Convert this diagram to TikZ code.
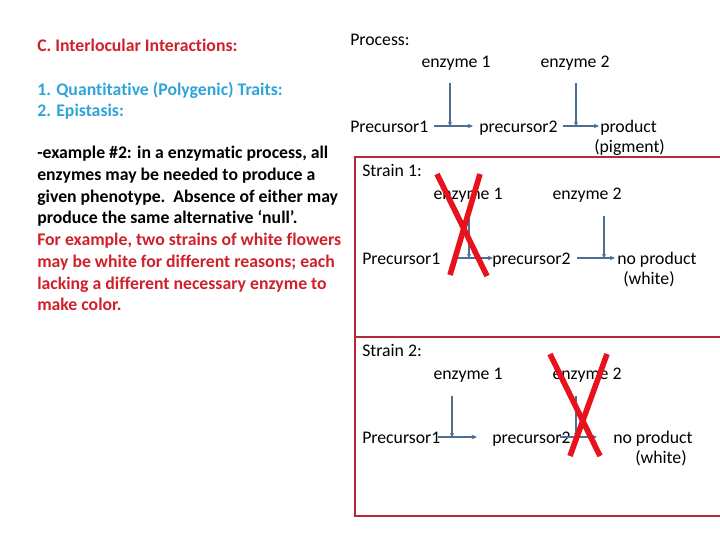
\documentclass[tikz,border=0pt]{standalone}
\usepackage{fontspec}
\setmainfont[Ligatures=NoCommon]{Carlito}
\usetikzlibrary{arrows.meta}
\definecolor{redtxt}{HTML}{D0202A}
\definecolor{bluetxt}{HTML}{2FA4D8}
\definecolor{arrowc}{HTML}{4F6F92}
\definecolor{boxred}{HTML}{B8283A}
\definecolor{xred}{HTML}{E8121C}
\begin{document}
\begin{tikzpicture}[x=0.75pt,y=-0.75pt,
  lbl/.style={inner sep=0pt, anchor=west, yshift=-2.2pt, font=\fontsize{13.3}{16}\selectfont, text height=1.5ex, text depth=.3ex},
  ctr/.style={lbl, anchor=center},
  bld/.style={lbl, font=\fontsize{13.3}{16}\selectfont\bfseries},
  hpath/.style={draw=arrowc, line width=1.5pt, -{Stealth[length=4pt,width=3.5pt]}},
  vpath/.style={draw=arrowc, line width=1.5pt, -{Stealth[length=3pt,width=3pt]}},
  boxline/.style={draw=boxred, line width=1pt},
  cross/.style={draw=xred, line width=4.2pt}]
\useasboundingbox (0,0) rectangle (720,540);

% left text
\node[bld, text=redtxt] (t0) at (37,45) {C. Interlocular Interactions:};
\node[bld, text=bluetxt] (t1) at (37,89) {1. Quantitative (Polygenic) Traits:};
\node[bld, text=bluetxt] (t2) at (37,110) {2. Epistasis:};
\node[bld] (l1) at (37,152) {-example \#2: in a enzymatic process, all};
\node[bld] (l2) at (37,174) {enzymes may be needed to produce a};
\node[bld] (l3) at (37,196) {given phenotype.\ \ Absence of either may};
\node[bld] (l4) at (37,217) {produce the same alternative ‘null’.};
\node[bld, text=redtxt] (l5) at (37,239) {For example, two strains of white flowers};
\node[bld, text=redtxt] (l6) at (37,261) {may be white for different reasons; each};
\node[bld, text=redtxt] (l7) at (37,283) {lacking a different necessary enzyme to};
\node[bld, text=redtxt] (l8) at (37,304) {make color.};

% process
\node[lbl] (proc) at (350,39) {Process:};
\node[ctr] (pe1) at (456,61) {enzyme 1};
\node[ctr] (pe2) at (575,61) {enzyme 2};
\node[lbl] (pp1) at (350,126) {Precursor1};
\node[lbl] (pp2) at (479,126) {precursor2};
\node[lbl] (pprod) at (600,126) {product};
\node[lbl] (ppig) at (594,146) {(pigment)};
\coordinate (pa1s) at (434,126); \coordinate (pa1e) at (473,126);
\coordinate (pv1s) at (450,83);  \coordinate (pv1e) at (450,126);
\coordinate (pa2s) at (563,126); \coordinate (pa2e) at (599,126);
\coordinate (pv2s) at (576,83);  \coordinate (pv2e) at (576,126);
\draw[hpath] (pa1s) -- (pa1e);
\draw[vpath] (pv1s) -- (pv1e);
\draw[hpath] (pa2s) -- (pa2e);
\draw[vpath] (pv2s) -- (pv2e);

% boxes
\draw[boxline] (720,157) -- (355,157) -- (355,337) -- (720,337);
\draw[boxline] (355,337) -- (355,516) -- (720,516);

% strain 1
\node[lbl] (s1) at (362,170) {Strain 1:};
\node[ctr] (ae1) at (468,193) {enzyme 1};
\node[ctr] (ae2) at (587,193) {enzyme 2};
\node[lbl] (ap1) at (362,258) {Precursor1};
\node[lbl] (ap2) at (492,258) {precursor2};
\node[lbl] (anp) at (617,258) {no product};
\node[lbl] (aw) at (623,278) {(white)};
\coordinate (aa1s) at (457,258); \coordinate (aa1e) at (493,258);
\coordinate (av1s) at (469,215); \coordinate (av1e) at (469,258);
\coordinate (aa2s) at (577,258); \coordinate (aa2e) at (615,258);
\coordinate (av2s) at (604,216); \coordinate (av2e) at (604,258);
\draw[hpath] (aa1s) -- (aa1e);
\draw[vpath] (av1s) -- (av1e);
\draw[hpath] (aa2s) -- (aa2e);
\draw[vpath] (av2s) -- (av2e);
\coordinate (ax1) at (437,174); \coordinate (ax2) at (487,276);
\coordinate (ax3) at (480,174); \coordinate (ax4) at (450,275);
\draw[cross] (ax1) -- (ax2);
\draw[cross] (ax3) -- (ax4);

% strain 2
\node[lbl] (s2) at (362,350) {Strain 2:};
\node[ctr] (be1) at (468,373) {enzyme 1};
\node[ctr] (be2) at (587,373) {enzyme 2};
\node[lbl] (bp1) at (362,437) {Precursor1};
\node[lbl] (bp2) at (492,437) {precursor2};
\node[lbl] (bnp) at (613,437) {no product};
\node[lbl] (bw) at (635,457) {(white)};
\coordinate (ba1s) at (438,437); \coordinate (ba1e) at (477,437);
\coordinate (bv1s) at (452,396); \coordinate (bv1e) at (452,437);
\coordinate (ba2s) at (560,437); \coordinate (ba2e) at (597,437);
\coordinate (bv2s) at (576,396); \coordinate (bv2e) at (576,437);
\draw[hpath] (ba1s) -- (ba1e);
\draw[vpath] (bv1s) -- (bv1e);
\draw[hpath] (ba2s) -- (ba2e);
\draw[vpath] (bv2s) -- (bv2e);
\coordinate (bx1) at (550,354); \coordinate (bx2) at (600,456);
\coordinate (bx3) at (607,354); \coordinate (bx4) at (570,456);
\draw[cross] (bx1) -- (bx2);
\draw[cross] (bx3) -- (bx4);
\end{tikzpicture}
\end{document}
